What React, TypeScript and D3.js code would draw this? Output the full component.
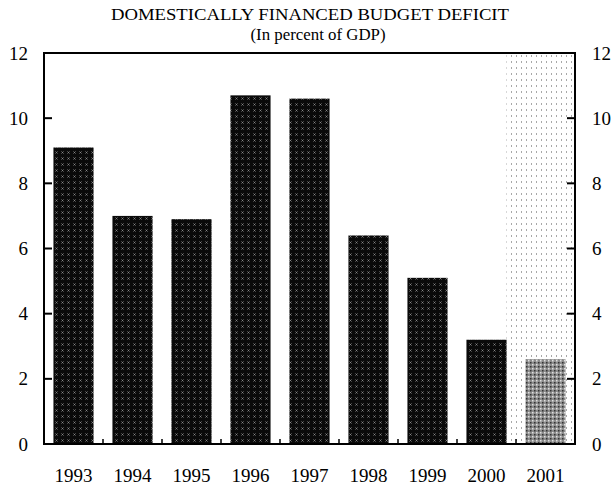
import React from "react";
import * as d3 from "d3";

const years = ["1993", "1994", "1995", "1996", "1997", "1998", "1999", "2000", "2001"];
const deficit = [9.1, 7.0, 6.9, 10.7, 10.6, 6.4, 5.1, 3.2, 2.6];
const projectedYears = ["2001"];
const yTicks = [0, 2, 4, 6, 8, 10, 12];
const title = "DOMESTICALLY FINANCED BUDGET DEFICIT";
const subtitle = "(In percent of GDP)";

const W = 616, H = 490;
const M = { left: 44, right: 41, top: 53, bottom: 46 };

export default function App() {
  const x = d3.scaleBand<string>().domain(years).range([M.left, W - M.right]).paddingInner(0.32).paddingOuter(0.16);
  const xOuter = d3.scaleBand<string>().domain(years).range([M.left, W - M.right]).padding(0);
  const y = d3.scaleLinear().domain([0, 12]).range([H - M.bottom, M.top]);
  const font = "'Liberation Serif', 'DejaVu Serif', serif";
  const x0 = M.left, x1 = W - M.right, yb = y(0), yt = y(12);
  return (
    <svg width={W} height={H} style={{ position: "absolute", left: 0, top: 0, background: "#fff" }}>
      <defs>
        <pattern id="dark" width="6" height="6" patternUnits="userSpaceOnUse">
          <rect width="6" height="6" fill="#0a0a0a" />
          <path d="M1.5,1.5 L3.5,3.5 M3.5,1.5 L1.5,3.5" stroke="#8a8a8a" strokeWidth="0.9" />
        </pattern>
        <pattern id="gray" width="4" height="4" patternUnits="userSpaceOnUse">
          <rect width="4" height="4" fill="#8c8c8c" />
          <rect x="0" y="0" width="1.5" height="1.5" fill="#e0e0e0" />
          <rect x="2" y="2" width="1.5" height="1.5" fill="#333" />
        </pattern>
        <pattern id="dots" width="5" height="6" patternUnits="userSpaceOnUse">
          <rect width="5" height="6" fill="#fff" />
          <rect x="1" y="1" width="1" height="2" fill="#a8a8a8" />
        </pattern>
      </defs>
      {projectedYears.map((yr) => {
        const i = years.indexOf(yr);
        const prev = years[i - 1];
        const sx = x(prev)! + x.bandwidth();
        return <rect key={yr} x={sx} y={yt} width={x1 - sx} height={yb - yt} fill="url(#dots)" />;
      })}
      {years.map((yr, i) => (
        <rect key={yr} x={x(yr)} y={y(deficit[i])} width={x.bandwidth()} height={yb - y(deficit[i])}
          fill={projectedYears.includes(yr) ? "url(#gray)" : "url(#dark)"} />
      ))}
      <path d={`M${x0},${yt}H${x1}V${yb}H${x0}Z`} fill="none" stroke="#000" strokeWidth="2" />
      {yTicks.map((t) => (
        <g key={t}>
          <line x1={x0} x2={x0 + 8} y1={y(t)} y2={y(t)} stroke="#000" strokeWidth="2" />
          <line x1={x1 - 8} x2={x1} y1={y(t)} y2={y(t)} stroke="#000" strokeWidth="2" />
          <text x={28} y={y(t)} dy="0.35em" textAnchor="end" fontFamily={font} fontSize={19}>{t}</text>
          <text x={592} y={y(t)} dy="0.35em" textAnchor="start" fontFamily={font} fontSize={19}>{t}</text>
        </g>
      ))}
      {years.slice(1).map((yr) => (
        <line key={yr} x1={xOuter(yr)} x2={xOuter(yr)} y1={yb} y2={yb - 5} stroke="#000" strokeWidth="1.5" />
      ))}
      {years.map((yr) => (
        <text key={yr} x={x(yr)! + x.bandwidth() / 2} y={482} textAnchor="middle" fontFamily={font} fontSize={19}>{yr}</text>
      ))}
      <text x={310} y={20} textAnchor="middle" fontFamily={font} fontSize={16} textLength={398} lengthAdjust="spacingAndGlyphs">{title}</text>
      <text x={318} y={40} textAnchor="middle" fontFamily={font} fontSize={16} textLength={135} lengthAdjust="spacingAndGlyphs">{subtitle}</text>
    </svg>
  );
}
